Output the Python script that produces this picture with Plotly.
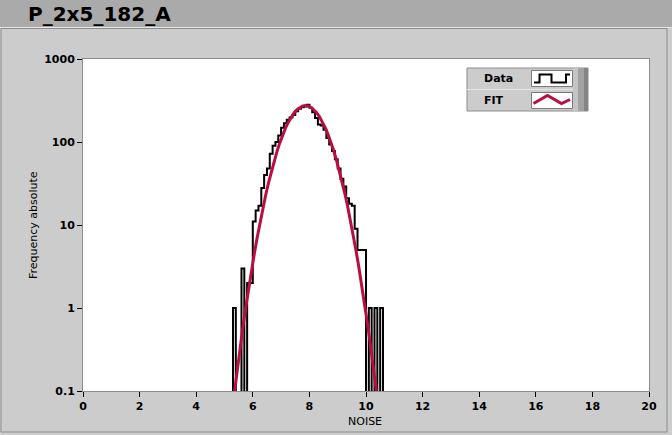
import plotly.graph_objects as go

# ---------------- data ----------------
title_text = "P_2x5_182_A"
x_title = "NOISE"
y_title = "Frequency absolute"
series_names = ["Data", "FIT"]

noise_bin_start = [5.3, 5.4, 5.5, 5.6, 5.7, 5.8, 5.9, 6.0, 6.1, 6.2, 6.3, 6.4, 6.5, 6.6,
                   6.7, 6.8, 6.9, 7.0, 7.1, 7.2, 7.3, 7.4, 7.5, 7.6, 7.7, 7.8, 7.9, 8.0,
                   8.1, 8.2, 8.3, 8.4, 8.5, 8.6, 8.7, 8.8, 8.9, 9.0, 9.1, 9.2, 9.3, 9.4,
                   9.5, 9.6, 9.7, 9.8, 9.9, 10.0, 10.1, 10.2, 10.3, 10.4, 10.5, 10.6]
frequency = [1, 0, 0, 3, 0, 2, 2, 11, 15, 17, 28, 40, 48, 72,
             90, 100, 120, 148, 168, 185, 198, 212, 235, 252, 262, 268, 282, 258,
             228, 195, 163, 158, 140, 112, 93, 78, 62, 48, 36, 29, 21, 18,
             17, 9, 5, 5, 5, 0, 1, 0, 1, 0, 1, 0]
bin_width = 0.1

fit_noise = [5.25, 5.35, 5.45, 5.55, 5.65, 5.75, 5.85, 5.95, 6.05, 6.15, 6.25, 6.35, 6.45,
             6.55, 6.65, 6.75, 6.85, 6.95, 7.05, 7.15, 7.25, 7.35, 7.45, 7.55, 7.65, 7.75,
             7.85, 7.95, 8.05, 8.15, 8.25, 8.35, 8.45, 8.55, 8.65, 8.75, 8.85, 8.95, 9.05,
             9.15, 9.25, 9.35, 9.45, 9.55, 9.65, 9.75, 9.85, 9.95, 10.05, 10.15, 10.25,
             10.35, 10.45]
fit_freq = [0.052, 0.098, 0.183, 0.33, 0.59, 1.01, 1.70, 2.78, 4.44, 6.92, 10.5, 15.6, 22.5,
            31.7, 43.5, 58.3, 76.1, 96.9, 120.4, 145.7, 172.1, 198.2, 222.5, 243.6, 260.2, 270.9,
            275.0, 272.2, 262.8, 247.4, 227.0, 203.2, 177.4, 151.0, 125.3, 101.4, 80.0, 61.6, 46.2,
            33.8, 24.1, 16.8, 11.4, 7.54, 4.86, 3.06, 1.88, 1.12, 0.655, 0.372, 0.207,
            0.112, 0.059]

x_tick_vals = [0, 2, 4, 6, 8, 10, 12, 14, 16, 18, 20]
y_tick_vals = [0.1, 1, 10, 100, 1000]
y_tick_text = ["0.1", "1", "10", "100", "1000"]

# ---------------- figure ----------------
W, H = 672, 435
ML, MR, MT, MB = 83, 23, 59, 44
PW, PH = W - ML - MR, H - MT - MB


def px(p):
    return (p - ML) / PW


def py(p):
    return (H - MB - p) / PH


FLOOR = 1e-3  # empty bins drop below the visible range on the log axis
step_x = [noise_bin_start[0] - bin_width] + noise_bin_start + [noise_bin_start[-1] + bin_width]
step_y = [FLOOR] + [c if c > 0 else FLOOR for c in frequency] + [FLOOR]

RED = "#B80F40"

fig = go.Figure()
fig.add_trace(go.Scatter(x=step_x, y=step_y, mode="lines", line_shape="hv",
                         line=dict(color="black", width=2), name=series_names[0]))
fig.add_trace(go.Scatter(x=fit_noise, y=fit_freq, mode="lines",
                         line=dict(color=RED, width=3), name=series_names[1]))

tickfont = dict(family="DejaVu Sans", size=11, color="black", weight="bold")
fig.update_xaxes(range=[0, 20], tickvals=x_tick_vals, ticks="outside", ticklen=5,
                 tickcolor="black", tickfont=tickfont, showgrid=False, zeroline=False,
                 showline=True, linecolor="#8C8C8C", linewidth=1, mirror=True)
fig.update_yaxes(type="log", range=[-1, 3], tickvals=y_tick_vals, ticktext=y_tick_text,
                 ticks="outside", ticklen=5, tickcolor="black", tickfont=tickfont,
                 showgrid=False, zeroline=False, showline=True, linecolor="#8C8C8C",
                 linewidth=1, mirror=True)

shapes = []
# title band
shapes.append(dict(type="rect", xref="paper", yref="paper", x0=px(0), x1=px(W), y0=py(27), y1=py(0),
                   fillcolor="#AAAAAA", line=dict(width=0), layer="below"))
shapes.append(dict(type="line", xref="paper", yref="paper", x0=px(0), x1=px(W), y0=py(27.5), y1=py(27.5),
                   line=dict(color="#E6E6E6", width=1), layer="below"))
# panel border
shapes.append(dict(type="rect", xref="paper", yref="paper", x0=px(1), x1=px(667), y0=py(432), y1=py(28.5),
                   line=dict(color="#8C8C8C", width=1), layer="below"))

# legend box
LX0, LX1, LY0, LY1 = 467, 588, 68, 111
shapes.append(dict(type="rect", xref="paper", yref="paper", x0=px(LX0), x1=px(LX1), y0=py(LY1), y1=py(LY0),
                   fillcolor="#CCCCCC", line=dict(color="#8C8C8C", width=1), layer="above"))
shapes.append(dict(type="line", xref="paper", yref="paper", x0=px(LX0), x1=px(573), y0=py(89.5), y1=py(89.5),
                   line=dict(color="#E6E6E6", width=1), layer="above"))
# right bevel strip
shapes.append(dict(type="rect", xref="paper", yref="paper", x0=px(573), x1=px(588), y0=py(LY1), y1=py(LY0),
                   fillcolor="#C4C4C4", line=dict(width=0), layer="above"))
shapes.append(dict(type="rect", xref="paper", yref="paper", x0=px(578), x1=px(584), y0=py(LY1), y1=py(LY0),
                   fillcolor="#A2A2A2", line=dict(width=0), layer="above"))
shapes.append(dict(type="rect", xref="paper", yref="paper", x0=px(584), x1=px(588), y0=py(LY1), y1=py(LY0),
                   fillcolor="#858585", line=dict(width=0), layer="above"))
# icon boxes
for (iy0, iy1) in [(70.5, 86.5), (92.5, 108.5)]:
    shapes.append(dict(type="rect", xref="paper", yref="paper", x0=px(531.5), x1=px(572.5), y0=py(iy1), y1=py(iy0),
                       fillcolor="white", line=dict(color="#7A7A7A", width=1), layer="above"))


def path(points):
    return "M " + " L ".join(f"{px(a):.5f},{py(b):.5f}" for a, b in points)


shapes.append(dict(type="path", xref="paper", yref="paper", layer="above",
                   path=path([(534, 82.5), (539.5, 82.5), (539.5, 74.5), (551.5, 74.5), (551.5, 82.5),
                              (566, 82.5), (566, 74.5), (570, 74.5)]),
                   line=dict(color="black", width=2)))
shapes.append(dict(type="path", xref="paper", yref="paper", layer="above",
                   path=path([(533.5, 103.5), (547.5, 95.5), (561.5, 103.5), (570, 99.5)]),
                   line=dict(color=RED, width=3)))

annotations = [
    dict(text=f"<b>{title_text}</b>", xref="paper", yref="paper", x=px(26), y=py(14),
         xanchor="left", yanchor="middle", showarrow=False,
         font=dict(family="DejaVu Sans", size=20, color="black")),
    dict(text=y_title, xref="paper", yref="paper", x=px(33), y=py(225), textangle=-90,
         xanchor="center", yanchor="middle", showarrow=False,
         font=dict(family="DejaVu Sans", size=11, color="black")),
    dict(text=x_title, xref="paper", yref="paper", x=px(365), y=py(421),
         xanchor="center", yanchor="middle", showarrow=False,
         font=dict(family="DejaVu Sans", size=11, color="black")),
    dict(text=f"<b>{series_names[0]}</b>", xref="paper", yref="paper", x=px(482), y=py(79),
         xanchor="left", yanchor="middle", showarrow=False,
         font=dict(family="DejaVu Sans", size=11, color="black")),
    dict(text=f"<b>{series_names[1]}</b>", xref="paper", yref="paper", x=px(482), y=py(100.5),
         xanchor="left", yanchor="middle", showarrow=False,
         font=dict(family="DejaVu Sans", size=11, color="black")),
]

fig.update_layout(width=W, height=H, margin=dict(l=ML, r=MR, t=MT, b=MB),
                  paper_bgcolor="#CCCCCC", plot_bgcolor="white", showlegend=False,
                  font=dict(family="DejaVu Sans", color="black"),
                  shapes=shapes, annotations=annotations)

fig.write_html("out.html", config={"displayModeBar": False},
               post_script="document.body.style.margin='0';document.body.style.padding='0';"
                           "document.body.style.background='#CCCCCC';")
